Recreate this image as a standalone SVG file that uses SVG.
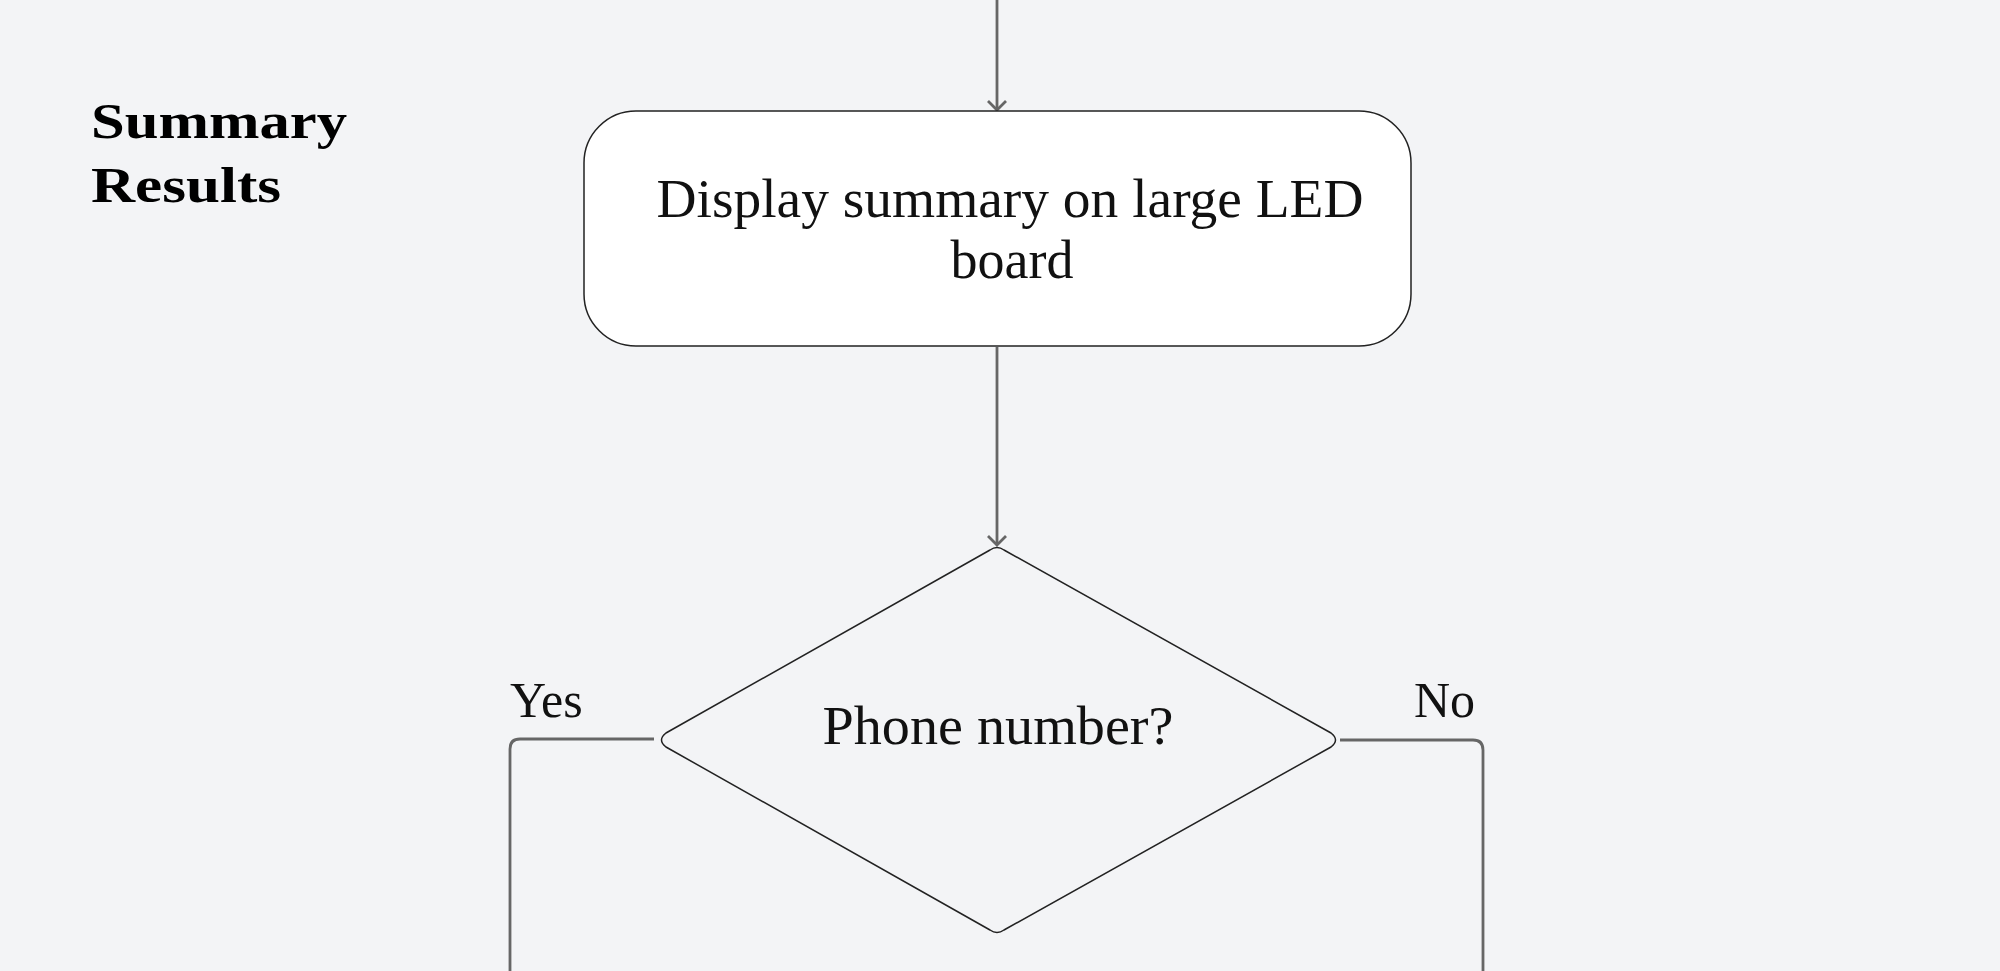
<svg xmlns="http://www.w3.org/2000/svg" width="2000" height="971" viewBox="0 0 2000 971">
<style>
.c{fill:none;stroke:#666;stroke-width:2.8}
.n{fill:#fff;stroke:#222;stroke-width:1.5}
.d{fill:#f3f4f6;stroke:#222;stroke-width:1.5}
.t{font-family:"Liberation Serif",serif;font-size:54px;fill:#111;text-anchor:middle}
.l{font-family:"Liberation Serif",serif;font-size:50px;fill:#111}
.h{font-family:"Liberation Serif",serif;font-size:50px;font-weight:bold;fill:#000}
</style>
<defs><marker id="a" markerWidth="20" markerHeight="20" refX="10" refY="10" orient="auto" markerUnits="userSpaceOnUse"><path d="M1,1 L10,10 L1,19" fill="none" stroke="#666" stroke-width="2.8"/></marker></defs>
<rect width="2000" height="971" fill="#f3f4f6"/>
<g id="title"><text class="h" x="91" y="138" textLength="256" lengthAdjust="spacingAndGlyphs">Summary</text><text class="h" x="91" y="202" textLength="190" lengthAdjust="spacingAndGlyphs">Results</text></g>
<g id="connectors">
<path class="c" d="M997,0 V110" marker-end="url(#a)"/>
<path class="c" d="M997,347 V545" marker-end="url(#a)"/>
<path class="c" d="M654,739 H520 Q510,739 510,749 V971"/>
<path class="c" d="M1340,740 H1473 Q1483,740 1483,750 V971"/>
<text class="l" x="510" y="717">Yes</text>
<text class="l" x="1414" y="717">No</text>
</g>
<g id="display"><rect class="n" x="584" y="111" width="827" height="235" rx="52"/>
<text class="t" x="1010" y="217" textLength="707" lengthAdjust="spacingAndGlyphs">Display summary on large LED</text><text class="t" x="1012" y="278">board</text></g>
<g id="phone"><path class="d" d="M990,550 Q997,545 1004,550 L1331,733 Q1340,740 1331,747 L1004,930 Q997,935 990,930 L666,747 Q657,740 666,733 Z"/>
<text class="t" x="998" y="744" textLength="351" lengthAdjust="spacingAndGlyphs">Phone number?</text></g>
</svg>
